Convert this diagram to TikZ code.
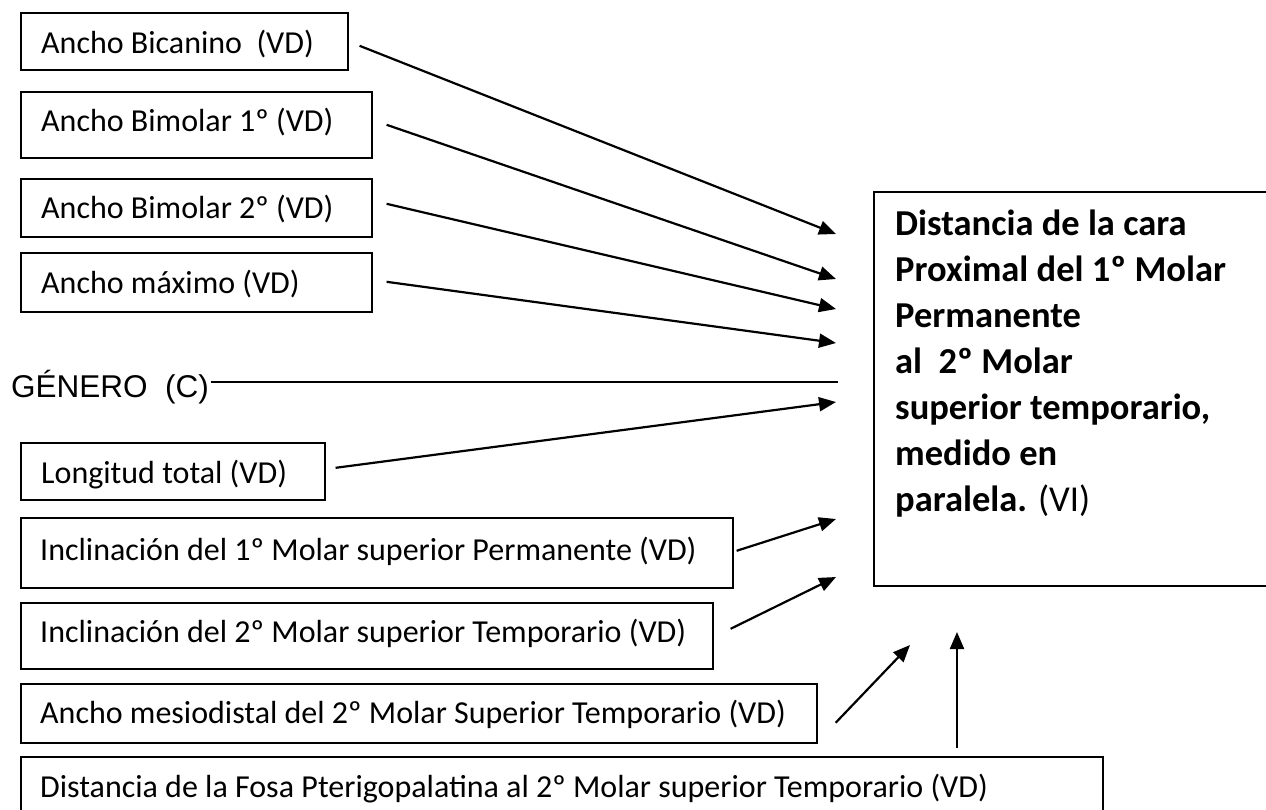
\documentclass[tikz,border=0pt]{standalone}
\usepackage{fontspec}
\setmainfont{Carlito}
\newfontfamily\arialfont{Liberation Sans}
\usetikzlibrary{arrows.meta,calc}
\begin{document}
\begin{tikzpicture}[x=1pt,y=-1pt,
  vbox/.style={draw, line width=1.6pt, anchor=north west, inner sep=0pt},
  lbl/.style={anchor=base west, inner sep=0pt, font=\fontsize{32}{38}\selectfont},
  conn/.style={line width=2.2pt, -{Triangle[length=17pt,width=14pt]}},
  plainline/.style={line width=1.4pt}]
\useasboundingbox[fill=white] (0,0) rectangle (1266,809);

% left boxes
\node[vbox, minimum width=327pt, minimum height=57pt] (b1) at (20,12) {};
\node[lbl] (b1t) at (41,53) {Ancho Bicanino~ (VD)};
\node[vbox, minimum width=351pt, minimum height=66pt] (b2) at (20,91) {};
\node[lbl] (b2t) at (41,131) {Ancho Bimolar 1º (VD)};
\node[vbox, minimum width=351pt, minimum height=58pt] (b3) at (20,178) {};
\node[lbl] (b3t) at (41,218) {Ancho Bimolar 2º (VD)};
\node[vbox, minimum width=351pt, minimum height=59pt] (b4) at (20,252) {};
\node[lbl] (b4t) at (41,293) {Ancho máximo (VD)};
\node[anchor=base west, inner xsep=2pt, inner ysep=0pt, font=\arialfont\fontsize{31.5}{38}\selectfont] (gen) at (9,397) {GÉNERO~ (C)};
\node[vbox, minimum width=304pt, minimum height=57pt] (lon) at (20,442) {};
\node[lbl] (lont) at (41,483) {Longitud total (VD)};
\node[vbox, minimum width=712pt, minimum height=70pt] (inc1) at (20,517) {};
\node[lbl] (inc1t) at (40,560) {Inclinación del 1º Molar superior Permanente (VD)};
\node[vbox, minimum width=692pt, minimum height=66pt] (inc2) at (20,602) {};
\node[lbl] (inc2t) at (40,642) {Inclinación del 2º Molar superior Temporario (VD)};
\node[vbox, minimum width=796pt, minimum height=59pt] (mes) at (20,683) {};
\node[lbl] (mest) at (40,723) {Ancho mesiodistal del 2º Molar Superior Temporario (VD)};
\node[vbox, minimum width=1082pt, minimum height=70pt] (fosa) at (20,756) {};
\node[lbl] (fosat) at (40,797) {Distancia de la Fosa Pterigopalatina al 2º Molar superior Temporario (VD)};

% dependent variable box
\node[vbox, minimum width=420pt, minimum height=394pt] (vi) at (873,191) {};
\node[anchor=north west, inner sep=0pt, align=left, font=\fontsize{36.5}{46}\selectfont\bfseries] (vitext) at (895,205)
  {\rule{0pt}{30pt}Distancia de la cara\\Proximal del 1º Molar\\Permanente\\al~ 2º Molar\\superior temporario,\\medido en\\paralela. {\mdseries (VI)}};

% arrow tips
\coordinate (t1) at (836,234);
\coordinate (t2) at (836,279);
\coordinate (t3) at (836,309);
\coordinate (t4) at (836,343);
\coordinate (genend) at (838,382);
\coordinate (t5) at (836,402);
\coordinate (t6) at (836,519);
\coordinate (t7) at (836,577);
\coordinate (t8) at (910,645);
\coordinate (t9) at (957,632);

\draw[conn] ([shift={(11,4.5)}]b1.east) -- (t1);
\draw[conn] ([shift={(14,0)}]b2.east) -- (t2);
\draw[conn] ([shift={(14,-4)}]b3.east) -- (t3);
\draw[conn] ([shift={(14,-0.5)}]b4.east) -- (t4);
\draw[plainline] (gen.east |- genend) -- (genend);
\draw[conn] ([shift={(10,-3.5)}]lon.east) -- (t5);
\draw[conn] ([shift={(3,-2)}]inc1.east) -- (t6);
\draw[conn] ([shift={(17,-7)}]inc2.east) -- (t7);
\draw[conn] ([shift={(18,9.5)}]mes.east) -- (t8);
\draw[conn] ([shift={(0,-8)}]fosa.north -| t9) -- (t9);
\end{tikzpicture}
\end{document}
